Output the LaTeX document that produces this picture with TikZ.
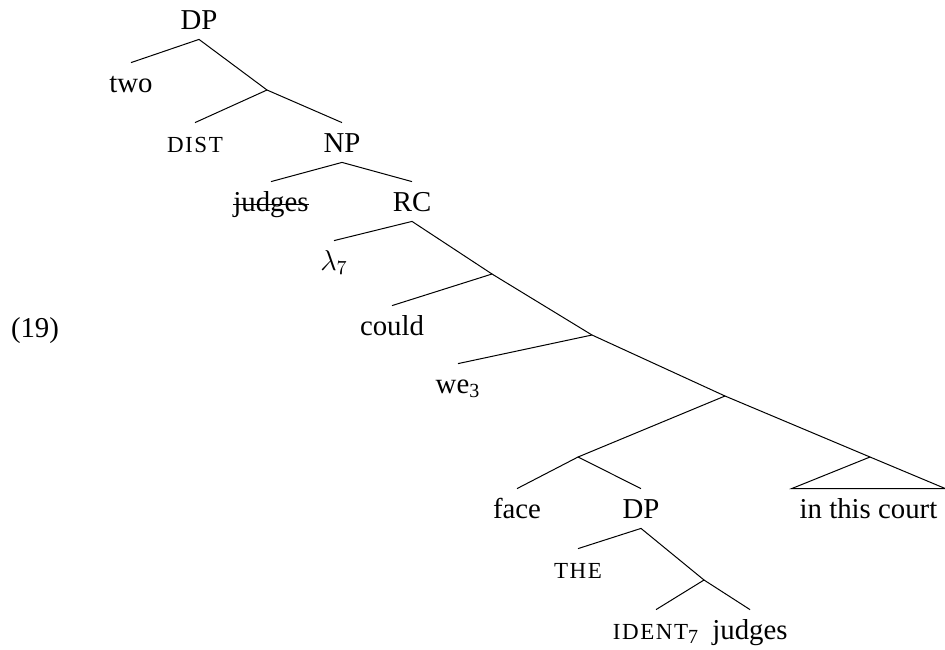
\documentclass[tikz,border=0pt]{standalone}
\usepackage{fontspec}
\setmainfont{Liberation Serif}
\newcommand{\smc}[1]{{\fontsize{11.5}{13}\selectfont\addfontfeature{LetterSpace=7}#1}}
\newcommand{\strk}[1]{\setbox0\hbox{#1}\rlap{\rule[0.2em]{\wd0}{0.5pt}}\box0}

\begin{document}
\begin{tikzpicture}[x=0.5pt, y=-0.5pt,
		lbl/.style={inner xsep=0pt, inner ysep=5pt, text height=9.5pt, text depth=0pt, font=\fontsize{14.4}{17}\selectfont},
		br/.style={line width=0.5pt}]
		%%%%% START %%%%%
		
		\useasboundingbox (0, 0) rectangle (945, 649);
		
		\node[lbl] (num) at (35, 327.5) {(19)};
		
		\node[lbl] (dp) at (199, 19.5) {DP};
		\node[lbl] (two) at (131, 82.5) {two};
		\coordinate (a) at (267, 90);
		\node[lbl] (dist) at (195, 142.5) {\smc{DIST}};
		\node[lbl] (np) at (342, 142.5) {NP};
		\node[lbl] (judges) at (271, 201.5) {\strk{judges}};
		\node[lbl] (rc) at (412, 201.5) {RC};
		\node[lbl] (lam) at (334, 260.5) {$\lambda_7$};
		\coordinate (b) at (492, 274);
		\node[lbl] (could) at (392, 325.5) {could};
		\coordinate (c) at (592, 335);
		\node[lbl] (we) at (458, 383.5) {we\textsubscript{3}};
		\coordinate (d) at (725, 396);
		\coordinate (e) at (578, 457);
		\coordinate (t) at (870, 457);
		\node[lbl] (face) at (517, 508.5) {face};
		\node[lbl] (dpb) at (641, 508.5) {DP};
		\node[lbl, inner xsep=3.85pt] (court) at (868.5, 508.5) {in this court};
		\node[lbl] (the) at (578, 568.5) {\smc{THE}};
		\coordinate (f) at (704, 580);
		\node[lbl] (ident) at (656, 629.5) {\smc{IDENT}\textsubscript{7}};
		\node[lbl] (judgesb) at (750, 629.5) {judges};
		
		\draw[br] (two.north) -- (dp.south) -- (a);
		\draw[br] (dist.north) -- (a) -- (np.north);
		\draw[br] (judges.north) -- (np.south) -- (rc.north);
		\draw[br] (lam.north) -- (rc.south) -- (b);
		\draw[br] (could.north) -- (b) -- (c);
		\draw[br] (we.north) -- (c) -- (d);
		\draw[br] (e) -- (d) -- (t);
		\draw[br] (face.north) -- (e) -- (dpb.north);
		\draw[br] (court.north west) -- (t) -- (court.north east) -- cycle;
		\draw[br] (the.north) -- (dpb.south) -- (f);
		\draw[br] (ident.north) -- (f) -- (judgesb.north);
		
		%%%%% END %%%%%
	\end{tikzpicture}
\end{document}
